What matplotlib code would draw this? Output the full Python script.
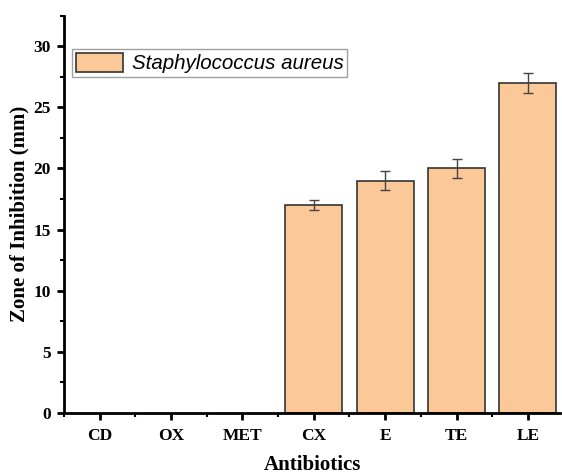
import matplotlib
matplotlib.use("Agg")
import matplotlib.pyplot as plt
from matplotlib.ticker import MultipleLocator, FixedLocator

categories = ["CD", "OX", "MET", "CX", "E", "TE", "LE"]
values = [0, 0, 0, 17, 19, 20, 27]
errors = [0, 0, 0, 0.4, 0.8, 0.8, 0.8]
series_name = "Staphylococcus aureus"

fig = plt.figure(figsize=(5.62, 4.74), dpi=100)
ax = fig.add_axes([0.1139, 0.1287, 0.8825, 0.8383])

x = list(range(len(categories)))
show = [v > 0 for v in values]
xs = [xi for xi, s in zip(x, show) if s]
vs = [v for v, s in zip(values, show) if s]
es = [e for e, s in zip(errors, show) if s]

ax.bar(xs, vs, width=0.8, color="#FBC898", edgecolor="#333333", linewidth=1.2,
       label=series_name, zorder=2)
ax.errorbar(xs, vs, yerr=es, fmt="none", ecolor="#444444", elinewidth=1.0,
            capsize=3.5, capthick=1.0, zorder=3)

ax.set_xlim(-0.5, 6.45)
ax.set_ylim(0, 32.5)
ax.set_xticks(x)
ax.set_xticklabels(categories)
ax.xaxis.set_minor_locator(FixedLocator([i + 0.5 for i in range(-1, 7)]))
ax.yaxis.set_major_locator(MultipleLocator(5))
ax.yaxis.set_minor_locator(MultipleLocator(2.5))

for s in ["top", "right"]:
    ax.spines[s].set_visible(False)
for s in ["left", "bottom"]:
    ax.spines[s].set_linewidth(2.0)

ax.tick_params(which="major", direction="out", length=5, width=2)
ax.tick_params(which="minor", direction="out", length=3, width=1.5)
ax.tick_params(axis="x", which="major", pad=6)
ax.tick_params(axis="y", which="major", pad=4.5)

for lab in ax.get_xticklabels() + ax.get_yticklabels():
    lab.set_fontfamily("Liberation Serif")
    lab.set_fontweight("bold")
    lab.set_fontsize(12.5)

ax.set_xlabel("Antibiotics", fontfamily="Liberation Serif", fontweight="bold",
              fontsize=15, labelpad=8)
ax.set_ylabel("Zone of Inhibition (mm)", fontfamily="Liberation Serif",
              fontweight="bold", fontsize=15, labelpad=3)

leg = ax.legend(loc="upper left", bbox_to_anchor=(0.016, 0.916),
                prop=dict(family="Liberation Sans", style="italic", size=14.8),
                frameon=True, fancybox=False, edgecolor="#888888",
                handlelength=2.3, handleheight=1.0, borderpad=0.2,
                handletextpad=0.4, borderaxespad=0)
leg.get_frame().set_linewidth(1.0)

fig.savefig("out.png", dpi=100)
